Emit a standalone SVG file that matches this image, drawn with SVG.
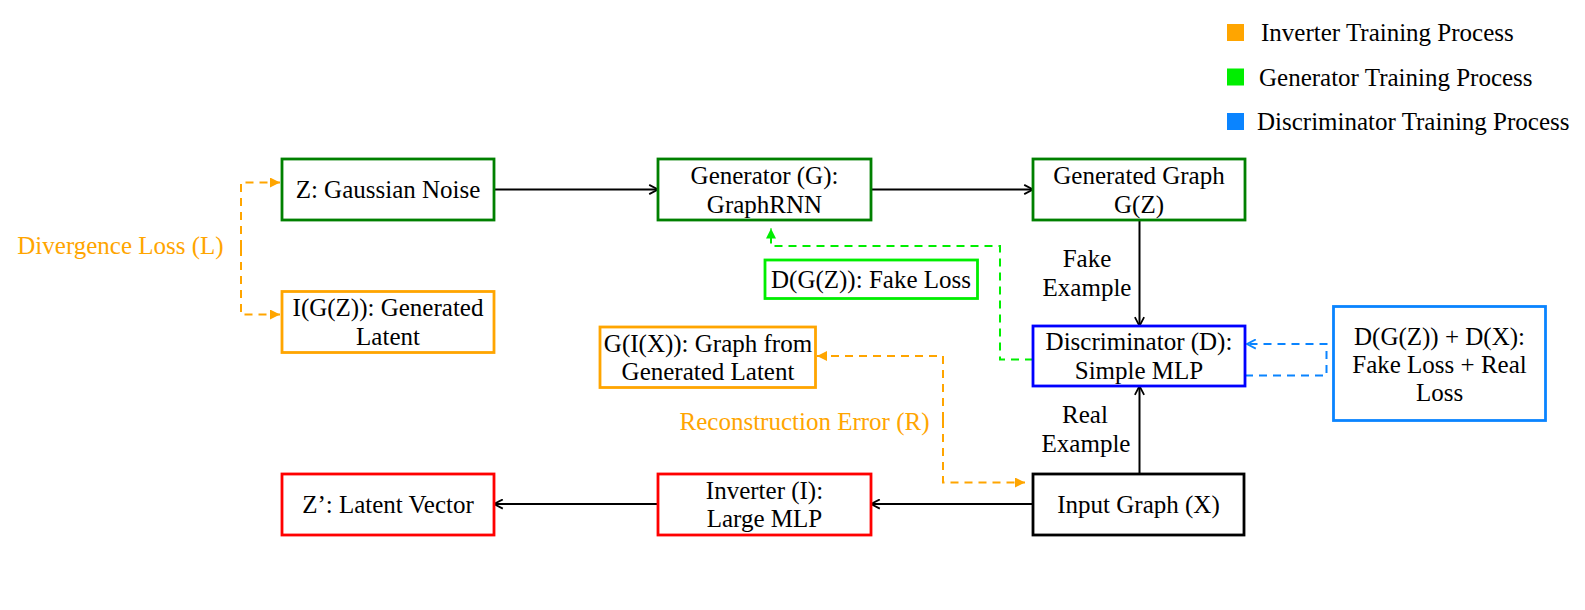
<svg xmlns="http://www.w3.org/2000/svg" width="1585" height="610" viewBox="0 0 1585 610">
<defs>
<style>
text{font-family:'Liberation Serif','Times New Roman',Times,serif;font-size:25px;fill:#000}
.c{text-anchor:middle}
.box{fill:#fff;stroke-width:2.8}
.dg{stroke:#008000}
.or{stroke:#FFA500}
.lg{stroke:#00EE00}
.bl{stroke:#0000FF}
.lb{stroke:#0A84FF}
.rd{stroke:#FF0000}
.bk{stroke:#000}
.ln{fill:none;stroke:#000;stroke-width:2}
.dash{fill:none;stroke-width:2;stroke-dasharray:8 6}
.otx{fill:#FFA500}
</style>
<marker id="chev" viewBox="0 0 10 10" refX="9.5" refY="5" markerWidth="11" markerHeight="11" markerUnits="userSpaceOnUse" orient="auto">
<path d="M1.5,0.8 L9.5,5 L1.5,9.2" fill="none" stroke="#000" stroke-width="1.6"/>
</marker>
<marker id="chevB" viewBox="0 0 10 10" refX="9.5" refY="5" markerWidth="11" markerHeight="11" markerUnits="userSpaceOnUse" orient="auto">
<path d="M1.5,0.8 L9.5,5 L1.5,9.2" fill="none" stroke="#0A84FF" stroke-width="1.6"/>
</marker>
<marker id="triO" viewBox="0 0 10 10" refX="10" refY="5" markerWidth="10" markerHeight="10" markerUnits="userSpaceOnUse" orient="auto">
<path d="M0,0 L10,5 L0,10 z" fill="#FFA500"/>
</marker>
<marker id="triG" viewBox="0 0 10 10" refX="10" refY="5" markerWidth="10" markerHeight="10" markerUnits="userSpaceOnUse" orient="auto">
<path d="M0,0 L10,5 L0,10 z" fill="#00EE00"/>
</marker>
</defs>
<rect width="1585" height="610" fill="#fff"/>

<g id="legend">
<rect x="1227" y="24" width="17" height="17" fill="#FFA500"/>
<text x="1261" y="41">Inverter Training Process</text>
<rect x="1227" y="68.5" width="17" height="17" fill="#00EE00"/>
<text x="1259" y="85.5">Generator Training Process</text>
<rect x="1227" y="113" width="17" height="17" fill="#0A84FF"/>
<text x="1257" y="130">Discriminator Training Process</text>
</g>

<g id="connectors">
<path class="ln" d="M494,189.5 H658" marker-end="url(#chev)"/>
<path class="ln" d="M871,189.5 H1033" marker-end="url(#chev)"/>
<path class="ln" d="M1139.5,220 V326" marker-end="url(#chev)"/>
<path class="ln" d="M1139.5,474 V386" marker-end="url(#chev)"/>
<path class="ln" d="M1033,504 H871" marker-end="url(#chev)"/>
<path class="ln" d="M658,504 H494" marker-end="url(#chev)"/>
<path class="dash or" d="M241,248 V182.5 H280" marker-end="url(#triO)"/>
<path class="dash or" d="M241,248 V314.5 H280" marker-end="url(#triO)"/>
<path class="dash lg" d="M1033,359.5 H1000 V246 H771 V228.5" marker-end="url(#triG)"/>
<path class="dash lb" d="M1245,375.5 H1326.5 V344 H1247" marker-end="url(#chevB)"/>
<path class="dash or" d="M943,420 V356 H817" marker-end="url(#triO)"/>
<path class="dash or" d="M943,420 V482.5 H1025" marker-end="url(#triO)"/>
</g>

<g id="label-divergence"><text class="c otx" x="120.5" y="254">Divergence Loss (L)</text></g>
<g id="label-reconstruction"><text class="c otx" x="804.5" y="430">Reconstruction Error (R)</text></g>
<g id="label-fake"><text class="c" x="1087" y="267">Fake</text><text class="c" x="1087" y="295.5">Example</text></g>
<g id="label-real"><text class="c" x="1085" y="423">Real</text><text class="c" x="1086" y="452">Example</text></g>

<g id="node-z">
<rect class="box dg" x="282" y="159" width="212" height="61"/>
<text class="c" x="388" y="198">Z: Gaussian Noise</text>
</g>
<g id="node-generator">
<rect class="box dg" x="658" y="159" width="213" height="61"/>
<text class="c" x="764.5" y="184">Generator (G):</text>
<text class="c" x="764.5" y="212.5">GraphRNN</text>
</g>
<g id="node-generated-graph">
<rect class="box dg" x="1033" y="159" width="212" height="61"/>
<text class="c" x="1139" y="184">Generated Graph</text>
<text class="c" x="1139" y="212.5">G(Z)</text>
</g>
<g id="node-igz">
<rect class="box or" x="282" y="291.5" width="212" height="61"/>
<text class="c" x="388" y="316">I(G(Z)): Generated</text>
<text class="c" x="388" y="344.5">Latent</text>
</g>
<g id="node-fake-loss">
<rect class="box lg" x="765" y="260" width="212.5" height="38.5"/>
<text class="c" x="871" y="288">D(G(Z)): Fake Loss</text>
</g>
<g id="node-gix">
<rect class="box or" x="600" y="327" width="215.5" height="60.5"/>
<text class="c" x="708" y="351.5">G(I(X)): Graph from</text>
<text class="c" x="708" y="380">Generated Latent</text>
</g>
<g id="node-discriminator">
<rect class="box bl" x="1033" y="326" width="212" height="60"/>
<text class="c" x="1139" y="350">Discriminator (D):</text>
<text class="c" x="1139" y="378.5">Simple MLP</text>
</g>
<g id="node-dloss">
<rect class="box lb" x="1333.5" y="306.5" width="212" height="114"/>
<text class="c" x="1439.5" y="345">D(G(Z)) + D(X):</text>
<text class="c" x="1439.5" y="373">Fake Loss + Real</text>
<text class="c" x="1439.5" y="401">Loss</text>
</g>
<g id="node-zprime">
<rect class="box rd" x="282" y="474" width="212" height="61"/>
<text class="c" x="388" y="513">Z’: Latent Vector</text>
</g>
<g id="node-inverter">
<rect class="box rd" x="658" y="474" width="213" height="61"/>
<text class="c" x="764.5" y="498.5">Inverter (I):</text>
<text class="c" x="764.5" y="527">Large MLP</text>
</g>
<g id="node-input">
<rect class="box bk" x="1033" y="474" width="211" height="61"/>
<text class="c" x="1138.5" y="513">Input Graph (X)</text>
</g>
</svg>
